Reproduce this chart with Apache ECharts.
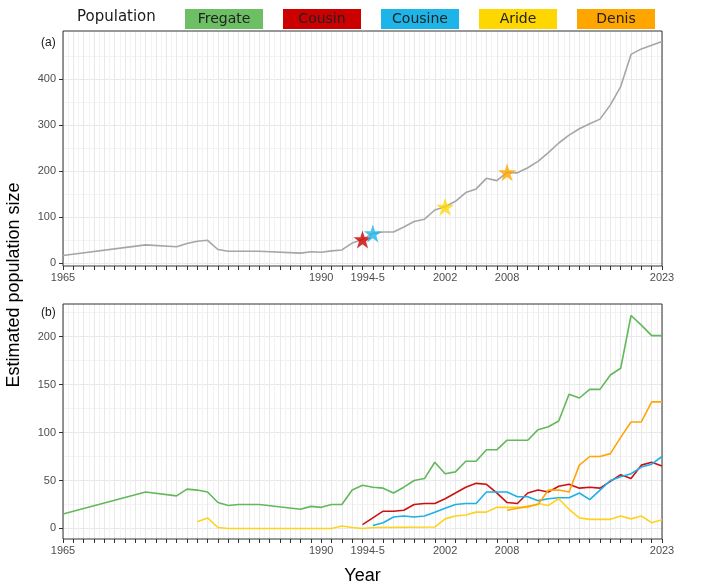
<!DOCTYPE html>
<html>
<head>
<meta charset="utf-8">
<script src="https://cdn.jsdelivr.net/npm/echarts@6/dist/echarts.min.js"></script>
<style>html,body{margin:0;padding:0;background:#fff}#c{width:709px;height:586px}</style>
</head>
<body>
<div id="c"></div>
<script>
// ---- data ----
const populations = ['Fregate', 'Cousin', 'Cousine', 'Aride', 'Denis'];

const totalYears = [1965,1973,1976,1977,1978,1979,1980,1981,1982,1984,1988,1989,1990,1991,1992,1993,1994,1995,1996,1997,1998,1999,2000,2001,2002,2003,2004,2005,2006,2007,2008,2009,2010,2011,2012,2013,2014,2015,2016,2017,2018,2019,2020,2021,2022,2023];
const totalValues = [16,39,35,42,47,49,29,25,25,25,21,24,23,26,28,43,51,64,67,67,78,90,95,115,122,134,153,161,184,179,197,196,207,221,240,261,278,292,303,313,344,384,454,466,474,482];

const fregateYears = [1965,1973,1976,1977,1978,1979,1980,1981,1982,1984,1988,1989,1990,1991,1992,1993,1994,1995,1996,1997,1998,1999,2000,2001,2002,2003,2004,2005,2006,2007,2008,2009,2010,2011,2012,2013,2014,2015,2016,2017,2018,2019,2020,2021,2022,2023];
const fregateValues = [15,38,34,41,40,38,27,24,25,25,20,23,22,25,25,40,45,43,42,37,43,50,52,69,57,59,70,70,82,82,92,92,92,103,106,112,140,136,145,145,160,167,222,212,201,201];

const cousinYears = [1994,1996,1997,1998,1999,2000,2001,2002,2003,2004,2005,2006,2007,2008,2009,2010,2011,2012,2013,2014,2015,2016,2017,2018,2019,2020,2021,2022,2023];
const cousinValues = [4,18,18,19,25,26,26,31,37,43,47,46,37,27,26,37,40,38,44,46,42,43,42,49,56,52,66,69,65];

const cousineYears = [1995,1996,1997,1998,1999,2000,2001,2002,2003,2004,2005,2006,2007,2008,2009,2010,2011,2012,2013,2014,2015,2016,2017,2018,2019,2020,2021,2022,2023];
const cousineValues = [3,6,12,13,12,13,17,21,25,26,26,38,38,38,33,33,29,31,32,32,37,30,40,50,54,57,64,67,75];

const arideYears = [1978,1979,1980,1981,1991,1992,1993,1994,1995,2001,2002,2003,2004,2005,2006,2007,2008,2009,2010,2011,2012,2013,2014,2015,2016,2017,2018,2019,2020,2021,2022,2023];
const arideValues = [7,11,1,0,0,2.5,1,0,1,1.5,10,13,14,17,17,22,22,22,22,26,24,31,20,11,9.5,9.5,9.5,13,10,13,6,9];

const denisYears = [2008,2009,2010,2011,2012,2013,2014,2015,2016,2017,2018,2019,2020,2021,2022,2023];
const denisValues = [19,21,23,25,40,40,38,66,75,75,78,95,111,111,132,132];

// founding of each population (star markers, panel a)
const starYears = [1994, 1995, 2002, 2008];
const starValues = [51, 64, 122, 197];

const xLabelValues = [1965, 1990, 1994.5, 2002, 2008, 2023];
const yTicksA = [0, 100, 200, 300, 400];
const yMinorA = [50, 150, 250, 350, 450];
const yTicksB = [0, 50, 100, 150, 200];
const yMinorB = [25, 75, 125, 175, 225];

// ---- styles ----
const colors = {Fregate: '#63B85C', Cousin: '#CC1111', Cousine: '#1DB1E6', Aride: '#FFD21F', Denis: '#FFA50A'};
const boxColors = {Fregate: '#6CBF62', Cousin: '#CC0000', Cousine: '#1DB4E8', Aride: '#FFD700', Denis: '#FFA500'};
const FONT = 'Liberation Sans';
const STAR = 'path://M50,0 L61.8,35.1 L98.9,35.1 L68.9,56.8 L80.3,91.9 L50,70.2 L19.7,91.9 L31.1,56.8 L1.1,35.1 L38.2,35.1 Z';

const zip = (xs, ys) => xs.map((x, i) => [x, ys[i]]);

function xAxis(gridIndex, withName) {
  const ax = {
    type: 'value', gridIndex, min: 1965, max: 2023, interval: 1,
    axisLine: {show: false, onZero: false},
    axisTick: {show: true, length: 4, lineStyle: {color: '#333', width: 1}},
    axisLabel: {
      customValues: xLabelValues, margin: 6, fontSize: 11, color: '#4D4D4D', fontFamily: FONT,
      formatter: v => (v === 1994.5 ? '1994-5' : String(v))
    },
    splitLine: {show: true, lineStyle: {color: '#E8E8E8', width: 1}},
    minorTick: {show: false, splitNumber: 2},
    minorSplitLine: {show: true, lineStyle: {color: '#F3F3F3', width: 1}}
  };
  if (withName) {
    ax.name = 'Year';
    ax.nameLocation = 'middle';
    ax.nameGap = 28;
    ax.nameTextStyle = {fontSize: 18, color: '#000', fontFamily: FONT};
  }
  return ax;
}
function yMajor(gridIndex, min, max, ticks) {
  return {
    type: 'value', gridIndex, min, max,
    axisLine: {show: false, onZero: false},
    axisTick: {show: true, length: 4, customValues: ticks, lineStyle: {color: '#333', width: 1}},
    axisLabel: {customValues: ticks, margin: 7, fontSize: 11, color: '#4D4D4D', fontFamily: FONT},
    splitLine: {show: true, lineStyle: {color: '#E8E8E8', width: 1}}
  };
}
function yMinor(gridIndex, min, max, ticks) {
  return {
    type: 'value', gridIndex, min, max,
    axisLine: {show: false, onZero: false},
    axisTick: {show: false, customValues: ticks},
    axisLabel: {show: false, customValues: ticks},
    splitLine: {show: true, lineStyle: {color: '#F3F3F3', width: 1}}
  };
}
function popLine(name, xs, ys) {
  return {
    name, type: 'line', xAxisIndex: 1, yAxisIndex: 2, data: zip(xs, ys),
    symbol: 'none', lineStyle: {color: colors[name], width: 1.6}, itemStyle: {color: colors[name]},
    z: 3
  };
}

const rich = {};
populations.forEach(p => {
  rich[p] = {
    width: 68, align: 'center', backgroundColor: boxColors[p], padding: [3, 5, 3, 5],
    lineHeight: 16, fontSize: 14, color: '#222', fontFamily: 'DejaVu Sans'
  };
});

const starNames = ['Cousin', 'Cousine', 'Aride', 'Denis'];

const option = {
  animation: false,
  backgroundColor: '#fff',
  title: [
    {text: 'Population', left: 72, top: 5, textStyle: {fontSize: 15, fontWeight: 'normal', color: '#1a1a1a', fontFamily: 'DejaVu Sans'}},
    {text: '(a)', left: 36, top: 32, textStyle: {fontSize: 12, fontWeight: 'normal', color: '#1a1a1a', fontFamily: FONT}},
    {text: '(b)', left: 36, top: 302, textStyle: {fontSize: 12, fontWeight: 'normal', color: '#1a1a1a', fontFamily: FONT}}
  ],
  legend: {
    data: populations, left: 175, top: 4, icon: 'none', itemWidth: 0, itemHeight: 14, itemGap: 15,
    selectedMode: false,
    formatter: name => '{' + name + '|' + name + '}',
    textStyle: {rich}
  },
  grid: [
    {left: 63, right: 47, top: 31, height: 235, show: true, z: 1, borderColor: '#333', borderWidth: 1, backgroundColor: 'transparent'},
    {left: 63, right: 47, top: 304, height: 235, show: true, z: 1, borderColor: '#333', borderWidth: 1, backgroundColor: 'transparent'}
  ],
  xAxis: [xAxis(0, false), xAxis(1, true)],
  yAxis: [
    yMajor(0, -7, 505, yTicksA), yMinor(0, -7, 505, yMinorA),
    yMajor(1, -11, 234, yTicksB), yMinor(1, -11, 234, yMinorB)
  ],
  graphic: [{
    type: 'text', x: 14, y: 285, rotation: Math.PI / 2,
    style: {text: 'Estimated population size', fontSize: 18, fill: '#000', fontFamily: FONT, textAlign: 'center', textVerticalAlign: 'middle'}
  }],
  series: [
    {
      name: 'Total', type: 'line', xAxisIndex: 0, yAxisIndex: 0, data: zip(totalYears, totalValues),
      symbol: 'none', lineStyle: {color: '#A6A6A6', width: 1.6}, z: 2
    },
    ...starNames.map((n, i) => ({
      name: n, type: 'scatter', xAxisIndex: 0, yAxisIndex: 0, data: [[starYears[i], starValues[i]]],
      symbol: STAR, symbolSize: 18, itemStyle: {color: boxColors[n]}, z: 5
    })),
    popLine('Fregate', fregateYears, fregateValues),
    popLine('Cousin', cousinYears, cousinValues),
    popLine('Cousine', cousineYears, cousineValues),
    popLine('Aride', arideYears, arideValues),
    popLine('Denis', denisYears, denisValues)
  ]
};

const chart = echarts.init(document.getElementById('c'), null, {renderer: 'canvas'});
chart.setOption(option);
</script>
</body>
</html>
